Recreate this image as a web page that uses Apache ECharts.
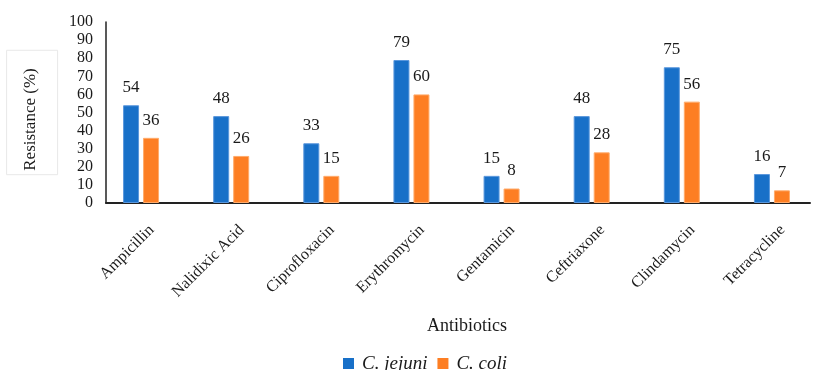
<!DOCTYPE html>
<html>
<head>
<meta charset="utf-8">
<script src="https://cdn.jsdelivr.net/npm/echarts@6/dist/echarts.min.js"></script>
<style>
  html, body { margin: 0; padding: 0; background: #ffffff; }
  #chart { width: 816px; height: 370px; }
</style>
</head>
<body>
<div id="chart"></div>
<script>
// Antibiotic resistance of Campylobacter isolates (%)
const antibiotics = ['Ampicillin', 'Nalidixic Acid', 'Ciprofloxacin', 'Erythromycin',
                     'Gentamicin', 'Ceftriaxone', 'Clindamycin', 'Tetracycline'];
const jejuni = [54, 48, 33, 79, 15, 48, 75, 16];
const coli   = [36, 26, 15, 60, 8, 28, 56, 7];
const seriesNames = ['C. jejuni', 'C. coli'];
const yTicks = { min: 0, max: 100, step: 10 };

const serif = '"Liberation Serif", "Times New Roman", serif';
const ink = '#1a1a1a';
const blue = '#1870C8';
const orange = '#FD7E23';

const chart = echarts.init(document.getElementById('chart'), null, { renderer: 'canvas' });

const valueLabel = {
  show: true,
  position: 'top',
  distance: 9,
  fontFamily: serif,
  fontSize: 17,
  color: ink
};

chart.setOption({
  animation: false,
  backgroundColor: '#ffffff',
  grid: [
    // bars
    { left: 96, width: 721, top: 22, bottom: 167, outerBoundsMode: 'none' },
    // axis frame
    { left: 106, right: 6, top: 22, bottom: 167, outerBoundsMode: 'none' }
  ],
  legend: {
    data: seriesNames,
    left: 338,
    top: 349,
    itemWidth: 11,
    itemHeight: 11,
    itemGap: 10,
    icon: 'rect',
    itemStyle: { borderWidth: 0 },
    textStyle: {
      fontFamily: serif,
      fontStyle: 'italic',
      fontSize: 19,
      color: ink,
      padding: [0, 0, 0, 3]
    }
  },
  xAxis: [
    {
      gridIndex: 0,
      type: 'category',
      data: antibiotics,
      axisLine: { show: false },
      axisTick: { show: false },
      axisLabel: {
        rotate: 45,
        margin: 14,
        interval: 0,
        verticalAlign: 'top',
        lineHeight: 30,
        fontFamily: serif,
        fontSize: 16,
        color: ink
      }
    },
    {
      gridIndex: 1,
      type: 'value',
      min: 0,
      max: 1,
      axisLine: { show: true, lineStyle: { color: '#222', width: 2 } },
      axisTick: { show: false },
      axisLabel: { show: false },
      splitLine: { show: false },
      name: 'Antibiotics',
      nameLocation: 'middle',
      nameGap: 114,
      nameTextStyle: {
        fontFamily: serif,
        fontSize: 18,
        color: ink,
        padding: [0, 0, 0, 18]
      }
    }
  ],
  yAxis: [
    {
      gridIndex: 0,
      type: 'value',
      min: yTicks.min,
      max: yTicks.max,
      show: false
    },
    {
      gridIndex: 1,
      type: 'value',
      min: yTicks.min,
      max: yTicks.max,
      interval: yTicks.step,
      axisLine: { show: true, lineStyle: { color: '#222', width: 1.5 } },
      axisTick: { show: false },
      splitLine: { show: false },
      axisLabel: {
        margin: 13,
        fontFamily: serif,
        fontSize: 16,
        color: ink
      },
      name: 'Resistance (%)',
      nameLocation: 'middle',
      nameGap: 42,
      nameRotate: 90,
      nameTextStyle: {
        fontFamily: serif,
        fontSize: 17,
        color: ink,
        borderColor: '#e8e8e8',
        borderWidth: 1,
        padding: [15, 18, 19, 4]
      }
    }
  ],
  series: [
    {
      name: seriesNames[0],
      type: 'bar',
      xAxisIndex: 0,
      yAxisIndex: 0,
      data: jejuni,
      barWidth: 16,
      barGap: '25%',
      itemStyle: { color: blue, borderColor: '#5a97dc', borderWidth: 1 },
      label: valueLabel
    },
    {
      name: seriesNames[1],
      type: 'bar',
      xAxisIndex: 0,
      yAxisIndex: 0,
      data: coli,
      barWidth: 16,
      barGap: '25%',
      itemStyle: { color: orange, borderColor: '#ffab6b', borderWidth: 1 },
      label: valueLabel
    }
  ]
});
</script>
</body>
</html>
